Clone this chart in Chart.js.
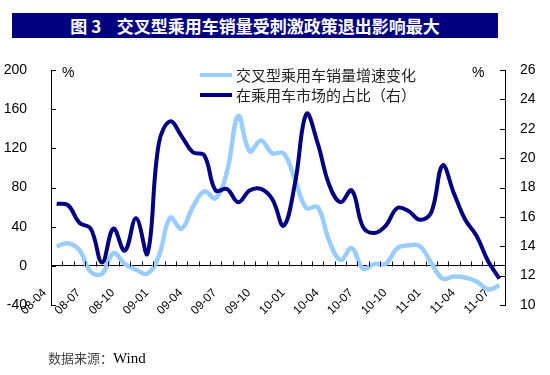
<!DOCTYPE html>
<html>
<head>
<meta charset="utf-8">
<script src="https://cdn.jsdelivr.net/npm/chart.js@4.4.1/dist/chart.umd.min.js"></script>
<style>
  html, body { margin: 0; padding: 0; background: #fff; }
  #wrap { position: relative; width: 550px; height: 375px; overflow: hidden; }
  #chart { position: absolute; left: 0; top: 0; }
  .title {
    position: absolute; left: 12px; top: 13px; width: 486px; height: 25px;
    background: #00007f; color: #fff; text-align: center; line-height: 25px;
    font: bold 17px "Noto Sans CJK SC", sans-serif; white-space: pre;
  }
  .source {
    position: absolute; left: 48px; top: 348px; color: #444;
    font: 13px "Noto Sans CJK SC", sans-serif;
  }
  .source span { font: 15px "Liberation Serif", serif; color: #000; }
</style>
</head>
<body>
<div id="wrap">
  <canvas id="chart" width="550" height="375"></canvas>
  <div class="title">图 3    交叉型乘用车销量受刺激政策退出影响最大</div>
  <div class="source">数据来源：<span>Wind</span></div>
</div>
<script>
// months 2008-04 .. 2011-07
const months = [
  '08-04', '08-05', '08-06', '08-07', '08-08', '08-09', '08-10', '08-11', '08-12',
  '09-01', '09-02', '09-03', '09-04', '09-05', '09-06', '09-07', '09-08', '09-09', '09-10', '09-11', '09-12',
  '10-01', '10-02', '10-03', '10-04', '10-05', '10-06', '10-07', '10-08', '10-09', '10-10', '10-11', '10-12',
  '11-01', '11-02', '11-03', '11-04', '11-05', '11-06', '11-07'
];

// 交叉型乘用车销量增速变化 (left axis, %)
const growth = [
  20, 23, 16, -6, -8, 13, 2, -4, -8,
  10, 49, 38, 60, 76, 69, 96, 153, 117, 128, 115, 115,
  88, 59, 60, 26, 6, 18, -3, 2, 2, 18, 21, 20,
  3, -13, -11, -12, -16, -24, -20
];

// 在乘用车市场的占比 (right axis, %)
const share = [
  16.9, 16.8, 15.6, 15.2, 12.9, 15.2, 13.7, 15.9, 13.5,
  21.0, 22.5, 21.5, 20.4, 20.2, 17.8, 17.9, 17.0, 17.8, 17.9, 17.2, 15.4,
  18.3, 23.0, 21.0, 18.2, 17.0, 17.8, 15.3, 14.9, 15.4, 16.6, 16.4, 15.8,
  16.3, 19.5, 17.6, 15.8, 14.7, 13.0, 11.8
];

const seriesNames = ['交叉型乘用车销量增速变化', '在乘用车市场的占比（右）'];
const seriesColors = ['#99ccff', '#000080'];

// inward tick marks, % units and the legend
const decorPlugin = {
  id: 'decor',
  afterDraw(chart) {
    const { ctx, chartArea: { left, right, top }, scales } = chart;
    const yL = scales.y, yR = scales.y2;
    ctx.save();
    ctx.strokeStyle = '#000';
    ctx.lineWidth = 1;
    ctx.beginPath();
    yL.ticks.forEach(t => {
      const py = Math.round(yL.getPixelForValue(t.value)) + 0.5;
      ctx.moveTo(left, py); ctx.lineTo(left + 5, py);
    });
    yR.ticks.forEach(t => {
      const py = Math.round(yR.getPixelForValue(t.value)) + 0.5;
      ctx.moveTo(right, py); ctx.lineTo(right - 5, py);
    });
    const zeroY = Math.round(yL.getPixelForValue(0)) + 0.5;
    const step = (right - left) / months.length;
    for (let k = 0; k <= months.length; k++) {
      const px = Math.round(left + k * step) + 0.5;
      ctx.moveTo(px, zeroY); ctx.lineTo(px, zeroY - 5);
    }
    ctx.stroke();

    ctx.fillStyle = '#000';
    ctx.font = '14px "Liberation Sans", Arial, sans-serif';
    ctx.textBaseline = 'middle';
    ctx.textAlign = 'left';
    ctx.fillText('%', left + 11, top + 3);
    ctx.fillText('%', right - 33, top + 3);

    // legend
    ctx.font = '15px "Noto Sans CJK SC", sans-serif';
    ctx.lineWidth = 4;
    seriesNames.forEach((name, i) => {
      const ly = 75 + i * 20;
      ctx.strokeStyle = seriesColors[i];
      ctx.beginPath();
      ctx.moveTo(200, ly); ctx.lineTo(232, ly);
      ctx.stroke();
      ctx.fillStyle = '#222';
      ctx.fillText(name, 236, ly);
    });
    ctx.restore();
  }
};

new Chart(document.getElementById('chart').getContext('2d'), {
  type: 'line',
  data: {
    labels: months,
    datasets: [
      {
        label: seriesNames[0],
        data: growth,
        yAxisID: 'y',
        borderColor: seriesColors[0],
        borderWidth: 4.5,
        pointRadius: 0,
        tension: 0.4,
        order: 1
      },
      {
        label: seriesNames[1],
        data: share,
        yAxisID: 'y2',
        borderColor: seriesColors[1],
        borderWidth: 4,
        pointRadius: 0,
        tension: 0.4,
        order: 0
      }
    ]
  },
  options: {
    responsive: false,
    animation: false,
    devicePixelRatio: 1,
    layout: { padding: { left: 0, right: 0, top: 70, bottom: 70 } },
    plugins: {
      legend: { display: false },
      tooltip: { enabled: false }
    },
    scales: {
      x: {
        position: { y: 0 },
        offset: true,
        grid: { display: false },
        border: { display: true, color: '#000', width: 1 },
        ticks: {
          autoSkip: false,
          maxRotation: 45,
          minRotation: 45,
          padding: 12,
          labelOffset: -12,
          color: '#000',
          font: { family: '"Liberation Sans", Arial, sans-serif', size: 12 },
          callback: (v, i) => (i % 3 === 0 ? months[i] : '')
        }
      },
      y: {
        position: 'left',
        min: -40,
        max: 200,
        afterFit: s => { s.width = 51; },
        grid: { display: false },
        border: { display: true, color: '#000', width: 1 },
        ticks: {
          stepSize: 40,
          padding: 16,
          color: '#000',
          font: { family: '"Liberation Sans", Arial, sans-serif', size: 14 }
        }
      },
      y2: {
        position: 'right',
        min: 10,
        max: 26,
        afterFit: s => { s.width = 45; },
        grid: { display: false },
        border: { display: true, color: '#000', width: 1 },
        ticks: {
          stepSize: 2,
          padding: 7,
          color: '#000',
          font: { family: '"Liberation Sans", Arial, sans-serif', size: 14 }
        }
      }
    }
  },
  plugins: [decorPlugin]
});
</script>
</body>
</html>
